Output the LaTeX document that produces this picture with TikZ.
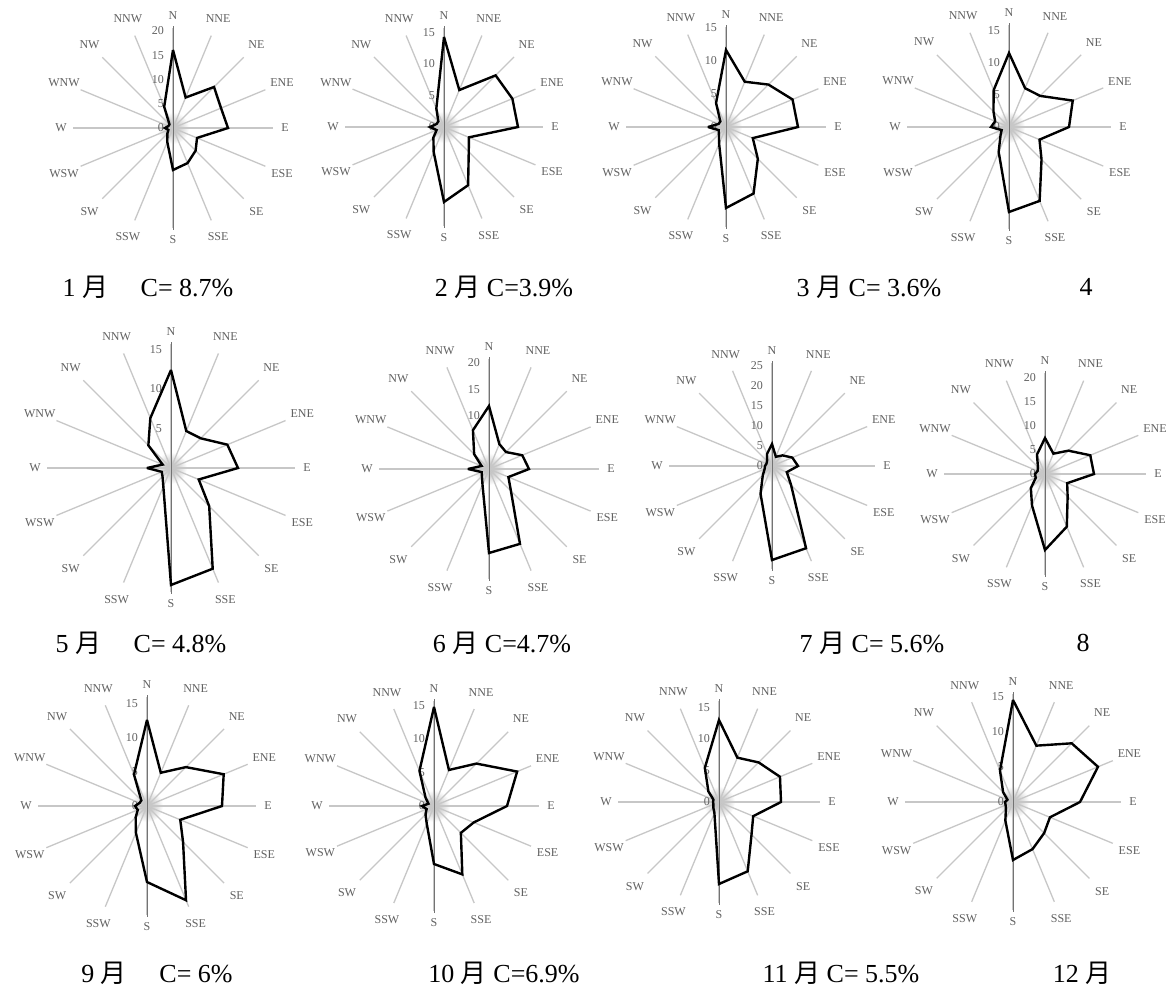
\documentclass[tikz,border=0pt]{standalone}
\usepackage{fontspec}
\setmainfont{Liberation Serif}
\newfontfamily\cjk{Noto Sans CJK SC}
\tikzset{
  spoke/.style={draw=black!22, line width=1.3pt},
  axisline/.style={draw=black!55, line width=0.8pt},
  datapoly/.style={draw=black, line width=2.4pt, line join=miter, miter limit=3},
  dirlab/.style={text=black!62, font=\fontsize{12}{13}\selectfont, inner sep=0pt},
  scalelab/.style={text=black!62, font=\fontsize{12}{13}\selectfont, inner sep=0pt, anchor=east},
  captext/.style={font=\fontsize{26}{30}\selectfont, inner sep=0pt}
}
\newcommand{\windrose}[7]{%
 \begin{scope}[shift={(#2,#3)}]
  \shade[inner color=black!30, outer color=white] (0,0) circle (16);
  \foreach \i in {0,...,15}{\draw[spoke] (0,0) -- ({(#4-12)*sin(22.5*\i)},{-(#4-12)*cos(22.5*\i)});}
  \draw[axisline] (0,{-(#4-10)}) -- (0,{#4-10});
  \foreach \lab [count=\i from 0] in {N,NNE,NE,ENE,E,ESE,SE,SSE,S,SSW,SW,WSW,W,WNW,NW,NNW}{
    \pgfmathsetmacro\rr{#4+6*(mod(\i,4)>0)}
    \node[dirlab] (#1-l\i) at ({\rr*sin(22.5*\i)},{-\rr*cos(22.5*\i)}) {\lab};}
  \foreach \v in {#6}{\node[scalelab] (#1-s\v) at (-9,{-#5*\v}) {\v};}
  \foreach \r [count=\i from 0] in {#7}{\coordinate (#1-p\i) at ({\r*sin(22.5*\i)},{-\r*cos(22.5*\i)});}
  \draw[datapoly] (#1-p0) \foreach \i in {1,...,15}{ -- (#1-p\i)} -- cycle;
 \end{scope}}
\begin{document}
\begin{tikzpicture}[x=1pt,y=-1pt]
\useasboundingbox[fill=white] (0,0) rectangle (1176,996);
\windrose{r1}{173}{128}{112}{4.85}{0,5,10,15,20}{78,33,58,52,55,26,32,38,42,15,8,5,8,5,5,23}
\windrose{r2}{444}{127}{111}{6.3}{0,5,10,15}{90,40,73,74,74,27,35,63,75,27,15,8,14,8,8,20}
\windrose{r3}{726}{127}{112}{6.6}{0,5,10,15}{77,49,60,72,72,29,45,72,81,18,10,8,18,8,8,26}
\windrose{r4}{1009}{127}{114}{6.4}{0,5,10,15}{74,42,44,69,60,33,46,80,85,27,12,8,18,15,22,40}
\windrose{r5}{171}{468}{136}{7.9}{5,10,15}{98,40,42,61,67,30,54,109,117,20,12,10,24,9,32,54}
\windrose{r6}{489}{469}{122}{5.3}{10,15,20}{63,27,24,36,40,21,31,81,84,17,10,8,21,8,21,42}
\windrose{r7}{772}{466}{115}{4}{0,5,10,15,20,25}{22,10,15,22,26,16,27,89,94,30,13,8,7,6,7,13}
\windrose{r8}{1045}{474}{113}{4.8}{0,5,10,15,20}{36,22,33,49,49,24,32,57,76,34,20,10,10,8,10,21}
\windrose{r9}{147}{806}{121}{6.8}{0,5,10,15}{86,36,55,83,75,36,51,102,76,29,16,10,12,8,8,34}
\windrose{r10}{434}{806}{117}{6.7}{0,5,10,15}{99,39,60,90,73,43,38,74,58,19,12,8,12,6,12,38}
\windrose{r11}{719}{802}{113}{6.3}{0,5,10,15}{82,48,56,66,62,37,46,75,82,12,8,6,6,6,15,37}
\windrose{r12}{1013}{802}{120}{7}{0,5,10,15}{102,61,83,92,67,40,44,51,58,20,10,8,8,6,14,34}
\node[captext] (c1) at (148,287) {1 {\cjk 月}\quad\ C=\ 8.7\%};
\node[captext] (c2) at (504,287) {2 {\cjk 月} C=3.9\%};
\node[captext] (c3) at (869,287) {3 {\cjk 月} C= 3.6\%};
\node[captext] (c4) at (1086,287) {4};
\node[captext] (c5) at (141,643) {5 {\cjk 月}\quad\ C= 4.8\%};
\node[captext] (c6) at (502,643) {6 {\cjk 月} C=4.7\%};
\node[captext] (c7) at (872,643) {7 {\cjk 月} C= 5.6\%};
\node[captext] (c8) at (1083,643) {8};
\node[captext] (c9) at (157,973) {9 {\cjk 月}\quad\ C= 6\%};
\node[captext] (c10) at (504,973) {10 {\cjk 月} C=6.9\%};
\node[captext] (c11) at (841,973) {11 {\cjk 月} C= 5.5\%};
\node[captext] (c12) at (1082,973) {12 {\cjk 月}};
\end{tikzpicture}
\end{document}
